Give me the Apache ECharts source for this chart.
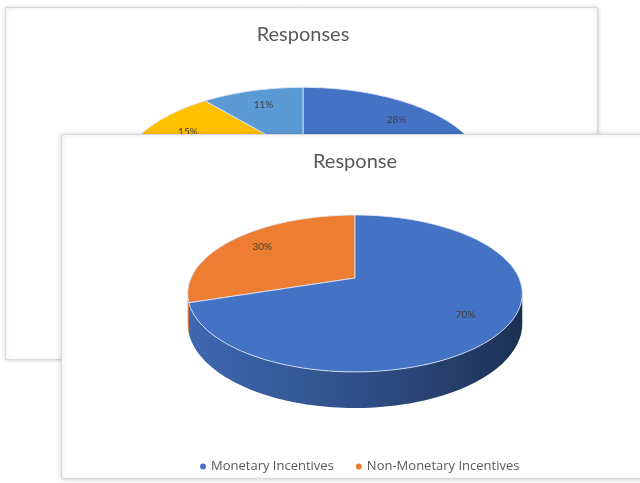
<!DOCTYPE html>
<html>
<head>
<meta charset="utf-8">
<script src="https://cdn.jsdelivr.net/npm/echarts@6/dist/echarts.min.js"></script>
<style>
  html, body { margin: 0; padding: 0; background: #ffffff; }
  #chart { width: 640px; height: 483px; }
</style>
</head>
<body>
<div id="chart"></div>
<script>
// Shares in percent, slices run clockwise from twelve o'clock
const backTitle = 'Responses';
const backValues = [28, 26, 20, 15, 11];

const frontTitle = 'Response';
const categories = ['Monetary Incentives', 'Non-Monetary Incentives'];
const frontValues = [70, 30];

// Office-style palette
const palette = ['#4472C4', '#ED7D31', '#A5A5A5', '#FFC000', '#5B9BD5'];
const FONT = 'Lato, "Open Sans", sans-serif';
const LEGEND_FONT = '"Open Sans", Lato, sans-serif';

// Tilted pie geometry with a little perspective (k) and a side wall (depth)
const backGeom  = { cx: 303, cy: 155, rx: 177, ry: 81,   k: 0.197, depth: 32, labelR: 0.75 };
const frontGeom = { cx: 355, cy: 278, rx: 164, ry: 75.4, k: 0.197, depth: 29, labelR: 0.76 };

function proj(g, deg, f, drop) {
  const t = deg * Math.PI / 180;
  const u = f * Math.sin(t), v = f * Math.cos(t);
  const d = 1 + g.k * v;
  return [g.cx + g.rx * u / d, g.cy - g.ry * v / d + drop * g.depth / d];
}
function arc(g, a0, a1, drop) {
  const pts = [];
  const n = Math.max(2, Math.ceil((a1 - a0) / 1.5));
  for (let i = 0; i <= n; i++) pts.push(proj(g, a0 + (a1 - a0) * i / n, 1, drop));
  return pts;
}
// Angular range of the rim that faces the viewer (between the outline's widest points)
function wallRange(g) {
  const a = Math.acos(-g.k) * 180 / Math.PI;
  return [a, 360 - a];
}
function shade(hex, f) {
  const n = parseInt(hex.slice(1), 16);
  const r = Math.round(((n >> 16) & 255) * f), gg = Math.round(((n >> 8) & 255) * f), b = Math.round((n & 255) * f);
  return 'rgb(' + r + ',' + gg + ',' + b + ')';
}
function wallFill(g, color) {
  return {
    type: 'linear', global: true,
    x: g.cx - g.rx, y: 0, x2: g.cx + g.rx, y2: 0,
    colorStops: [
      { offset: 0, color: shade(color, 0.9) },
      { offset: 0.5, color: shade(color, 0.7) },
      { offset: 0.85, color: shade(color, 0.52) },
      { offset: 1, color: shade(color, 0.42) }
    ]
  };
}

// Turn a list of percentages into slices [startDeg, endDeg, pct]
function toSlices(values) {
  const total = values.reduce((a, b) => a + b, 0);
  let acc = 0;
  return values.map(v => {
    const s = acc / total * 360;
    acc += v;
    return [s, acc / total * 360, v];
  });
}

function pieSeries(name, g, slices, colors, z) {
  const wr = wallRange(g);
  return {
    type: 'custom',
    name: name,
    coordinateSystem: 'none',
    z: z,
    silent: true,
    itemStyle: { color: colors[0] },
    data: slices,
    renderItem: function (params, api) {
      const a0 = api.value(0), a1 = api.value(1), pct = api.value(2);
      const color = colors[params.dataIndex];
      const children = [];
      const w0 = Math.max(a0, wr[0]), w1 = Math.min(a1, wr[1]);
      if (w1 > w0) {
        const pts = arc(g, w0, w1, 0).concat(arc(g, w0, w1, 1).reverse());
        children.push({ type: 'polygon', z2: 1, shape: { points: pts }, style: { fill: wallFill(g, color) } });
      }
      const face = [proj(g, 0, 0, 0)].concat(arc(g, a0, a1, 0));
      children.push({
        type: 'polygon', z2: 2, shape: { points: face },
        style: { fill: color, stroke: 'rgba(225,232,248,0.85)', lineWidth: 1, lineJoin: 'round' }
      });
      const lp = proj(g, (a0 + a1) / 2, g.labelR, 0);
      children.push({
        type: 'text', z2: 3, x: lp[0], y: lp[1],
        style: { text: pct + '%', fill: '#404040', font: '10px ' + FONT, align: 'center', verticalAlign: 'middle' }
      });
      return { type: 'group', children: children };
    }
  };
}

const backSlices = toSlices(backValues);
const frontSlices = toSlices(frontValues);

const chart = echarts.init(document.getElementById('chart'), null, { renderer: 'canvas' });
chart.setOption({
  animation: false,
  backgroundColor: '#ffffff',
  graphic: {
    elements: [
      { type: 'rect', z: 0, shape: { x: 5.5, y: 7.5, width: 592, height: 352 },
        style: { fill: '#ffffff', stroke: '#d9d9d9', lineWidth: 1, shadowBlur: 4, shadowColor: 'rgba(0,0,0,0.18)' } },
      { type: 'text', z: 1, x: backGeom.cx, y: 35,
        style: { text: backTitle, fill: '#595959', font: '20px ' + FONT, align: 'center', verticalAlign: 'middle' } },
      { type: 'rect', z: 10, shape: { x: 61.5, y: 134.5, width: 600, height: 344 },
        style: { fill: '#ffffff', stroke: '#d9d9d9', lineWidth: 1, shadowBlur: 5, shadowColor: 'rgba(0,0,0,0.2)' } },
      { type: 'text', z: 11, x: frontGeom.cx, y: 162,
        style: { text: frontTitle, fill: '#595959', font: '20px ' + FONT, align: 'center', verticalAlign: 'middle' } }
    ]
  },
  legend: {
    z: 30,
    data: categories,
    left: 195,
    top: 455,
    icon: 'circle',
    itemWidth: 6,
    itemHeight: 6,
    itemGap: 22,
    textStyle: { color: '#595959', fontSize: 13, fontFamily: LEGEND_FONT },
    selectedMode: false
  },
  series: [
    pieSeries(backTitle, backGeom, backSlices, palette, 2),
    pieSeries(categories[1], frontGeom, [frontSlices[1]], [palette[1]], 20),
    pieSeries(categories[0], frontGeom, [frontSlices[0]], [palette[0]], 21)
  ]
});
</script>
</body>
</html>
